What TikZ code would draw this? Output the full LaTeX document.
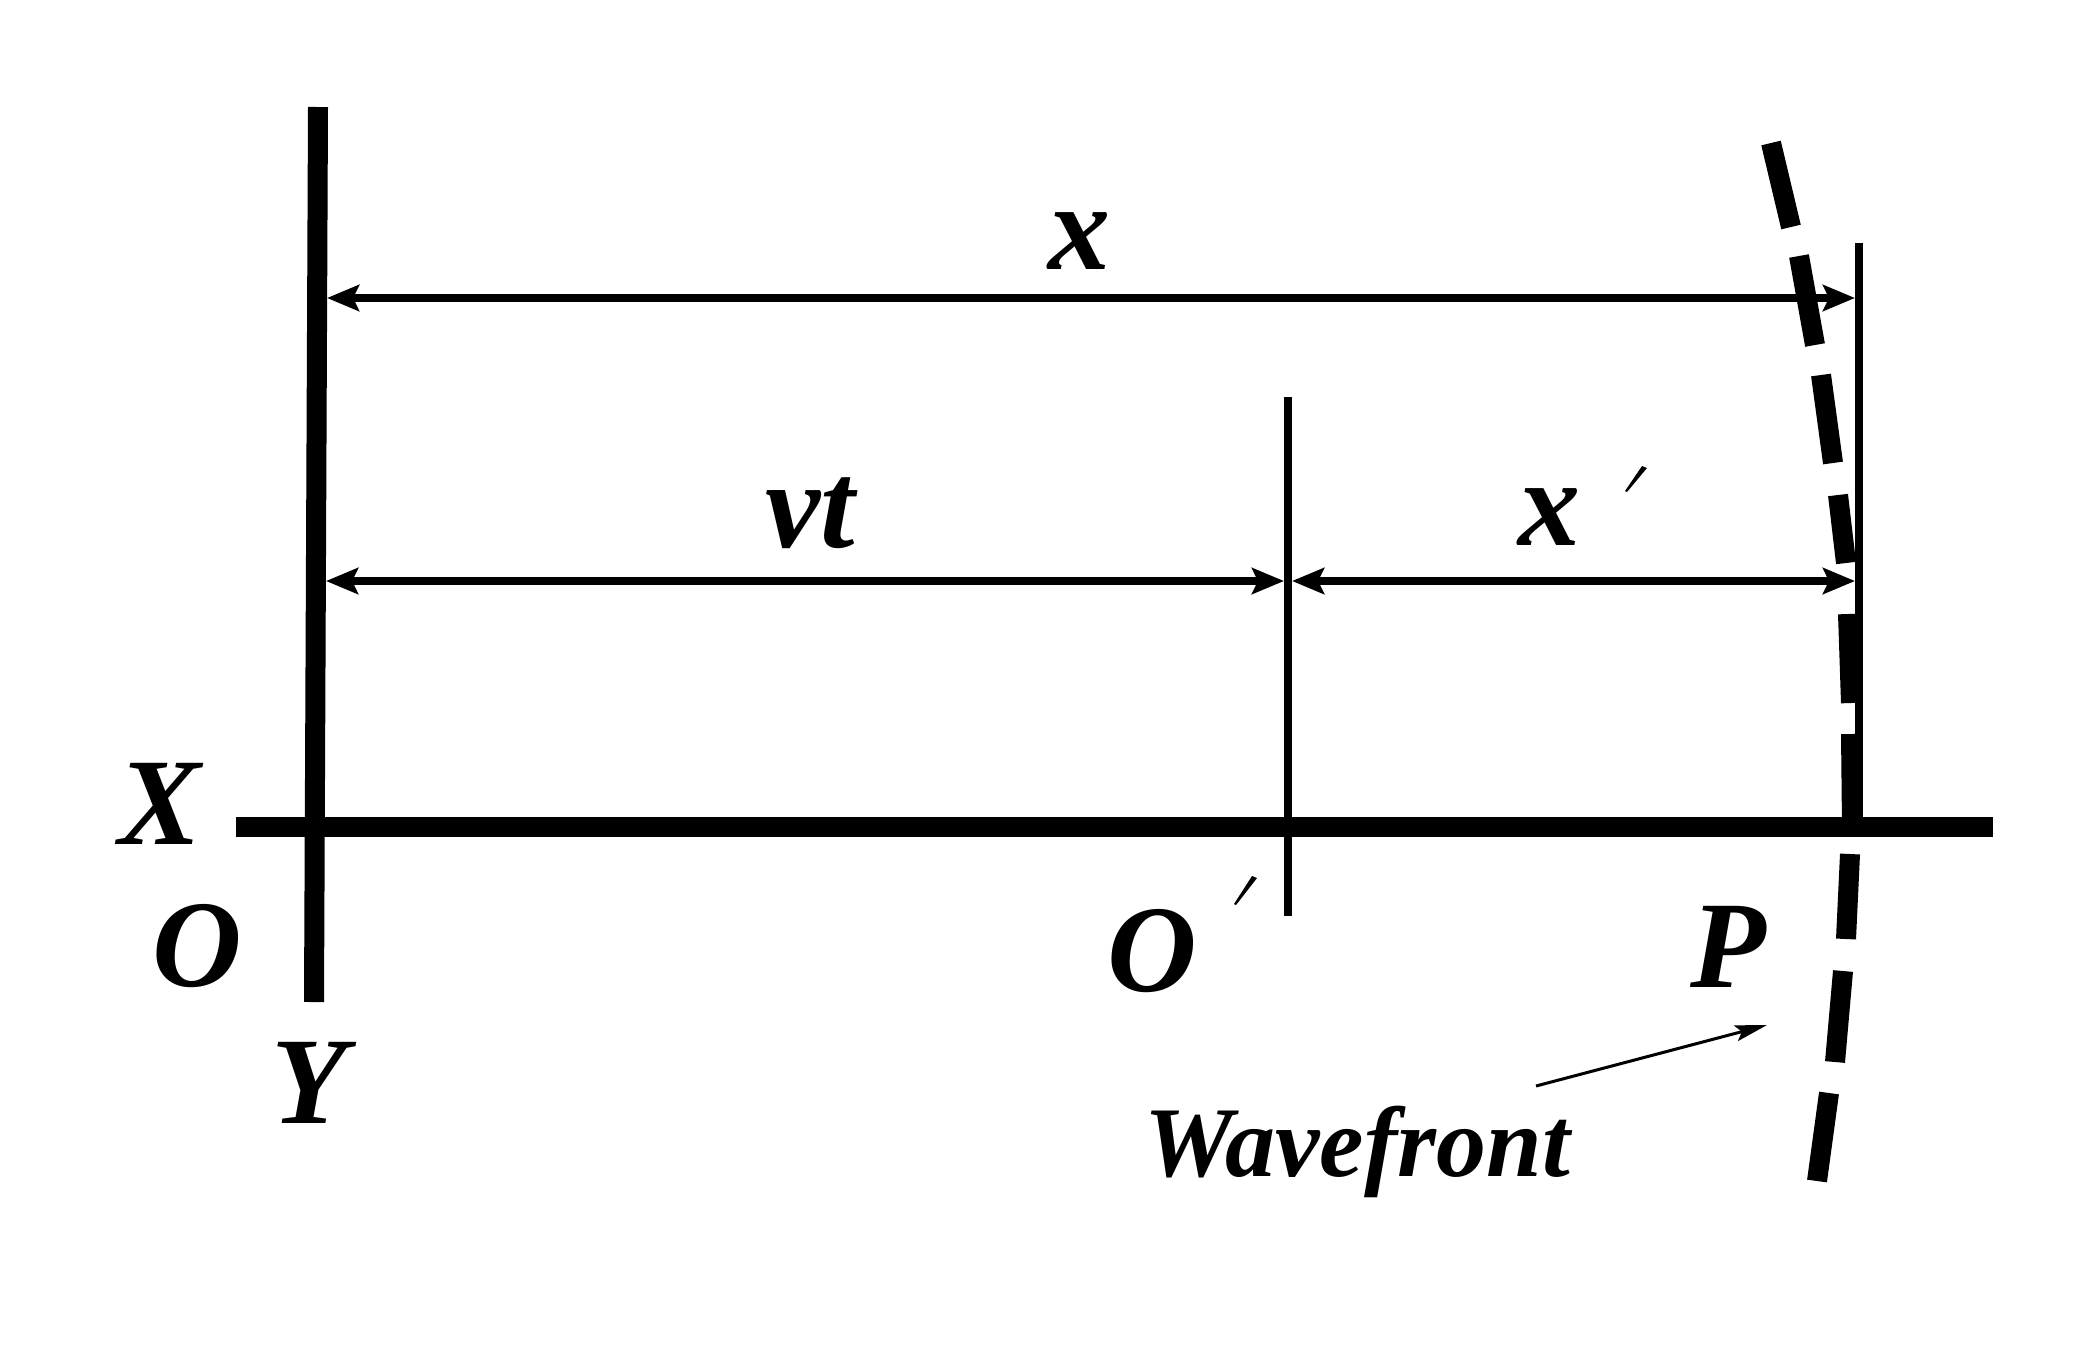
\documentclass[tikz,border=0pt]{standalone}
\usepackage{fontspec}
\setmainfont{Liberation Serif}
\usetikzlibrary{arrows.meta}
\tikzset{
  axisline/.style={line width=10pt,line cap=butt},
  thinline/.style={line width=4.4pt},
  dimline/.style={line width=4.4pt,{Stealth[length=16pt,width=13pt,inset=3pt]}-{Stealth[length=16pt,width=13pt,inset=3pt]}},
  wavefrontdash/.style={line width=10pt},
  leader/.style={line width=1.5pt,-{Stealth[length=16pt,width=8pt,inset=3pt]}},
  biglabel/.style={inner sep=0pt,anchor=base,font=\fontsize{62}{62}\selectfont\bfseries\itshape},
  smalllabel/.style={inner sep=0pt,anchor=base,font=\fontsize{50}{50}\selectfont\bfseries\itshape},
  primemark/.style={fill=black,draw=none}
}
\begin{document}
\begin{tikzpicture}[x=0.5pt,y=-0.5pt]
\useasboundingbox[fill=white] (0,0) rectangle (2076,1367);
% anchors
\coordinate (ytop) at (318,107);
\coordinate (ybot) at (314,1002);
\coordinate (xl) at (236,827);
\coordinate (xr) at (1993,827);
\coordinate (otop) at (1288,397);
\coordinate (obot) at (1288,916);
\coordinate (ptop) at (1859,243);
\coordinate (pbot) at (1859,827);
\coordinate (xa) at (327,298);
\coordinate (xb) at (1855,298);
\coordinate (va) at (326,581);
\coordinate (vb) at (1284,581);
\coordinate (wa) at (1292,581);
\coordinate (wb) at (1855,581);
\coordinate (ls) at (1536,1086);
\coordinate (le) at (1767,1025);
% wavefront
\draw[wavefrontdash] (1771,143)--(1791,227) (1799,256)--(1815,345) (1821,375)--(1833,463)
  (1838,495)--(1846,563) (1848,614)--(1851,703) (1851,734)--(1852,827)
  (1850,854)--(1846,939) (1843,971)--(1835,1062) (1829,1093)--(1817,1181);
% axes
\draw[axisline] (ytop)--(ybot);
\draw[axisline] (xl)--(xr);
\draw[thinline] (otop)--(obot);
\draw[thinline] (ptop)--(pbot);
% dimensions
\draw[dimline] (xa)--(xb);
\draw[dimline] (va)--(vb);
\draw[dimline] (wa)--(wb);
\draw[leader] (ls)--(le);
% labels
\node[biglabel] (lx) at (1079,269) {x};
\node[biglabel] (lvt) at (810,547) {vt};
\node[biglabel] (lxp) at (1549,545) {x};
\node[biglabel] (lX) at (160,844) {X};
\node[biglabel] (lO) at (197,986) {O};
\node[biglabel] (lY) at (309,1123) {Y};
\node[biglabel] (lOp) at (1152,991) {O};
\node[biglabel] (lP) at (1728,987) {P};
\node[smalllabel] (lW) at (1357,1176) {Wavefront};
% primes
\fill[primemark] (1647,468)--(1642,466)--(1625,491)--(1627,492)--cycle;
\fill[primemark] (1257,878)--(1252,876)--(1234,904)--(1236,905)--cycle;
\end{tikzpicture}
\end{document}
